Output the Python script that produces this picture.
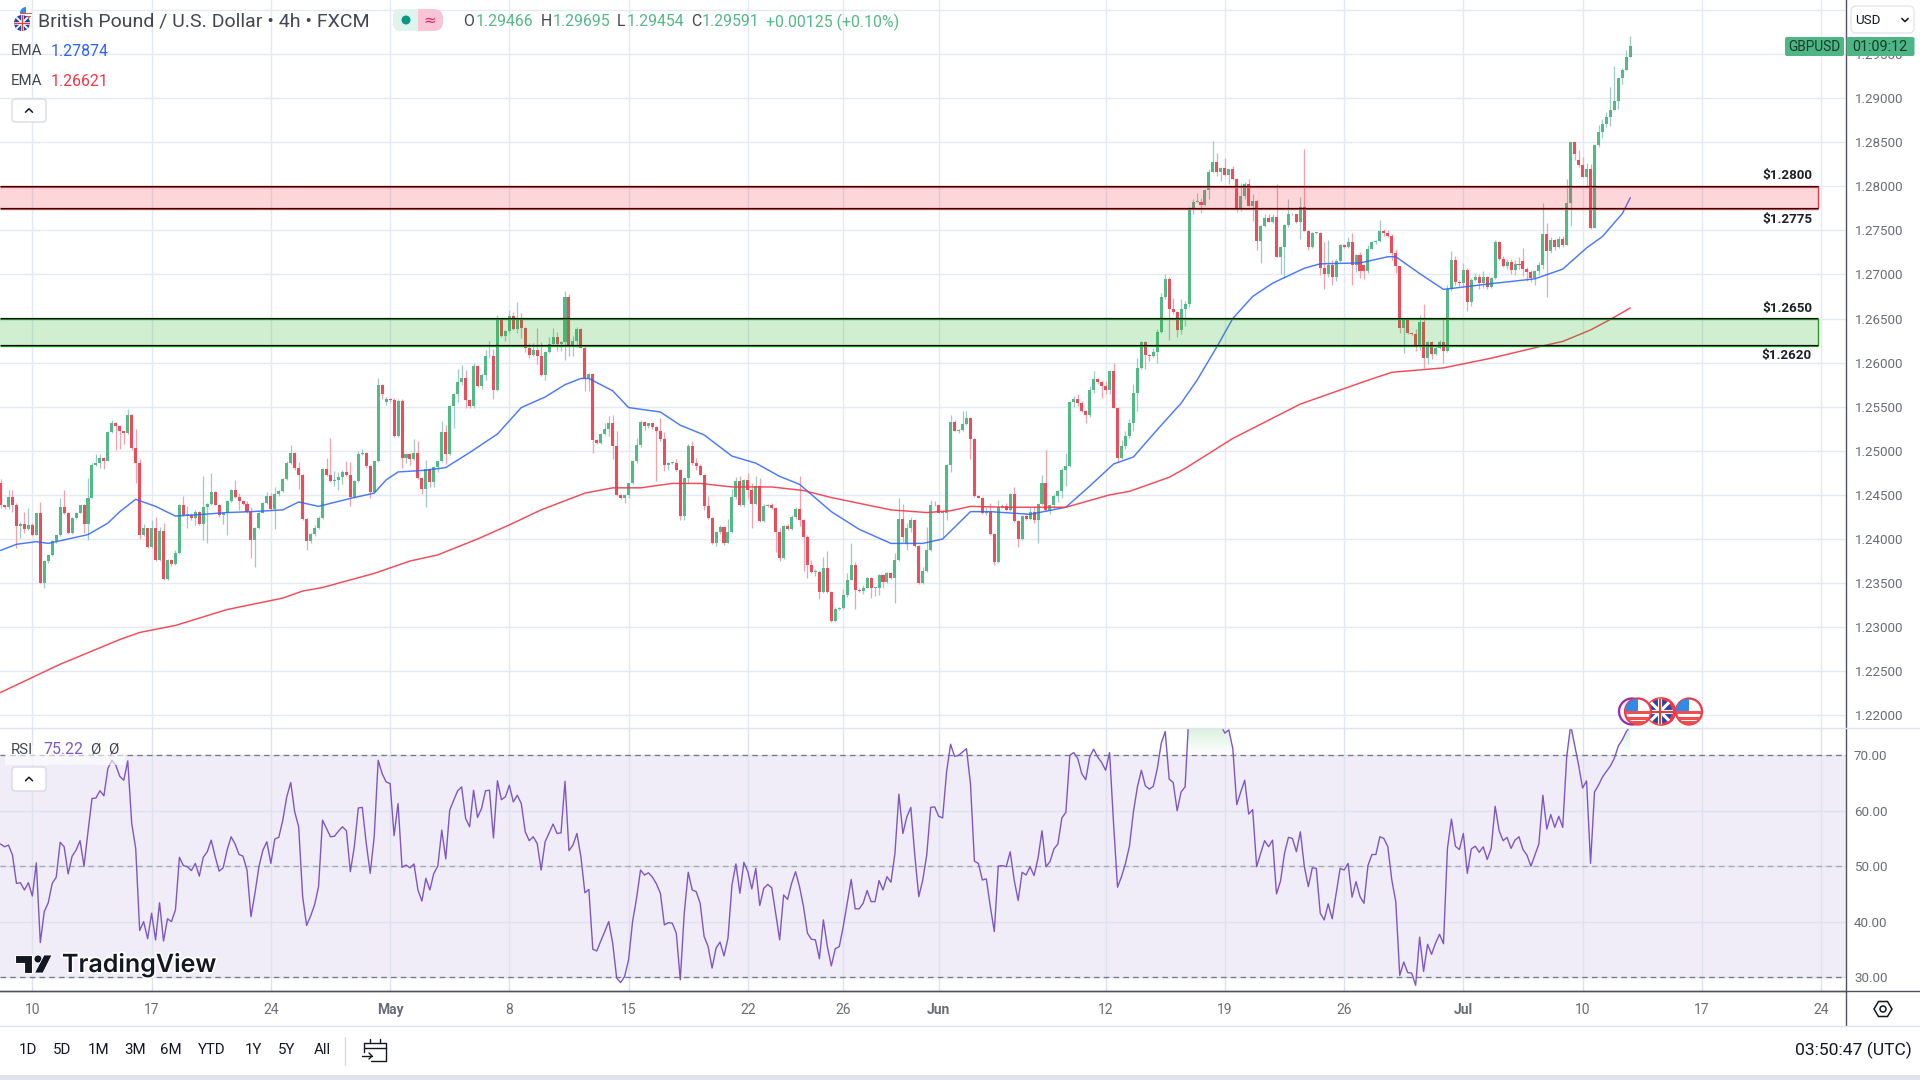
import numpy as np, pandas as pd, matplotlib
matplotlib.use('Agg')
import matplotlib.pyplot as plt, seaborn as sns
import matplotlib.patheffects as pe
from matplotlib.patches import Circle, Rectangle, FancyBboxPatch, Polygon
from matplotlib.path import Path
from matplotlib.colors import LinearSegmentedColormap

# ---- data (GBP/USD 4h, in 1/10000 of a dollar) ----
closes = [12438,12436,12448,12439,12415,12417,12411,12416,12405,12429,
12350,12375,12382,12398,12404,12436,12430,12407,12424,12430,
12438,12417,12447,12484,12486,12492,12489,12521,12532,12528,
12522,12520,12541,12503,12486,12404,12412,12391,12412,12376,
12409,12355,12376,12372,12384,12439,12427,12427,12424,12431,
12417,12436,12440,12453,12439,12427,12430,12443,12455,12448,
12443,12440,12431,12399,12413,12430,12441,12449,12434,12451,
12454,12468,12486,12498,12481,12473,12423,12398,12406,12412,
12424,12479,12472,12466,12467,12470,12476,12472,12448,12466,
12496,12497,12483,12453,12488,12575,12564,12559,12558,12517,
12556,12492,12496,12491,12497,12469,12457,12479,12465,12482,
12488,12521,12496,12551,12564,12578,12583,12558,12551,12596,
12573,12586,12607,12608,12569,12648,12630,12636,12653,12638,
12648,12639,12617,12609,12614,12608,12586,12612,12621,12629,
12621,12623,12674,12620,12625,12638,12617,12582,12587,12512,
12509,12519,12525,12532,12505,12450,12446,12450,12463,12489,
12507,12533,12528,12531,12527,12522,12513,12484,12486,12486,
12478,12426,12469,12505,12486,12483,12473,12437,12424,12395,
12408,12414,12396,12408,12448,12466,12438,12467,12456,12440,
12460,12420,12437,12439,12435,12408,12378,12415,12411,12425,
12434,12422,12402,12371,12363,12363,12340,12367,12340,12307,
12321,12322,12336,12354,12371,12342,12341,12345,12356,12345,
12345,12359,12351,12361,12356,12376,12423,12402,12413,12422,
12392,12350,12364,12387,12438,12439,12430,12430,12484,12533,
12523,12524,12530,12537,12513,12449,12447,12429,12431,12406,
12374,12436,12437,12433,12451,12420,12400,12426,12423,12431,
12422,12440,12464,12433,12438,12449,12454,12478,12483,12555,
12559,12554,12545,12541,12569,12581,12578,12574,12569,12590,
12549,12492,12505,12517,12531,12565,12594,12623,12609,12607,
12612,12635,12674,12695,12661,12657,12637,12661,12667,12775,
12782,12782,12779,12796,12816,12827,12816,12821,12813,12819,
12808,12773,12789,12802,12778,12783,12738,12755,12764,12759,
12765,12720,12731,12756,12769,12768,12759,12776,12749,12731,
12747,12747,12707,12700,12711,12697,12715,12733,12731,12737,
12711,12722,12704,12704,12729,12737,12738,12749,12747,12743,
12724,12710,12639,12648,12633,12632,12618,12646,12605,12623,
12610,12617,12623,12613,12683,12716,12691,12690,12705,12669,
12694,12697,12690,12697,12686,12696,12737,12717,12709,12714,
12705,12712,12711,12706,12703,12696,12704,12711,12746,12727,
12739,12731,12740,12733,12781,12850,12837,12824,12810,12819,
12753,12847,12862,12870,12878,12886,12897,12923,12932,12947,12959]
first_open = 12463
open_gaps = {97:12555, 228:12395, 343:12711, 383:12715, 397:12830}
wick_up = [5,1,8,8,2,2,14,19,2,1, 13,1,1,1,2,11,20,1,1,1, 1,2,22,2,10,4,1,1,3,1,
1,1,6,1,22,5,5,1,10,13, 5,9,1,1,3,1,10,10,2,2, 1,35,1,22,1,1,1,1,2,12,
4,1,3,5,1,2,1,4,3,8, 1,1,2,9,1,6,1,1,1,4, 2,1,13,43,10,6,2,12,15,1,
4,5,1,1,1,8,1,2,1,2, 3,3,1,1,16,14,1,11,2,1, 1,13,8,1,1,15,14,9,1,3,
1,2,7,16,7,6,1,1,7,4, 21,8,1,5,8,25,15,1,8,10, 6,2,7,4,5,2,1,2,1,1,
1,1,6,8,9,18,1,1,1,1, 8,2,1,1,1,1,15,8,1,1, 5,1,1,3,6,6,2,1,12,1,
1,2,1,15,9,4,5,1,8,7, 11,9,3,1,2,1,5,1,2,2, 2,37,1,3,5,3,2,13,19,1,
2,1,7,8,24,3,2,3,1,1, 1,1,1,2,2,8,24,17,5,3, 1,1,4,27,6,4,1,3,1,8,
2,1,15,8,1,1,1,1,5,10, 1,8,3,4,1,8,1,1,4,5, 5,1,8,37,1,2,1,2,15,1,
3,5,2,1,4,9,1,2,5,1, 9,1,7,5,5,11,11,1,1,1, 5,3,5,5,2,12,1,11,3,1,
3,10,5,1,3,24,11,1,11,1, 4,1,15,3,6,8,1,1,4,5, 3,38,1,1,17,1,1,12,66,1,
1,1,1,30,28,5,3,1,2,5, 10,1,3,1,4,1,1,13,3,3, 3,5,0,1,2,1,6,8,20,1,
2,3,3,27,5,11,5,3,8,2, 2,5,4,7,1,1,2,1,4,3, 4,4,8,15,2,2,1,3,35,12,
3,1,3,3,27,0,0,11,9,7, 6,0,7,6,6,27,39,0,2,7,11]
wick_dn = [3,2,2,8,25,14,4,1,2,1, 0,5,2,1,2,1,2,1,1,1, 1,10,18,1,1,6,10,1,1,27,
20,12,1,2,23,4,1,1,1,1, 1,1,1,3,1,1,1,15,2,8, 1,18,40,1,1,2,10,25,1,1,
10,1,1,21,31,2,1,1,1,23, 2,1,1,1,3,16,1,11,3,3, 1,1,1,1,6,12,8,1,11,1,
1,1,3,7,1,1,5,3,3,1, 1,11,6,7,1,1,6,21,6,6, 6,1,11,1,25,9,3,10,3,2,
1,3,6,1,10,1,1,6,3,1, 4,11,5,4,2,10,1,6,1,2, 8,8,20,12,12,7,1,14,14,14,
1,1,1,8,14,1,1,5,3,1, 3,3,4,2,2,56,2,7,6,1, 1,5,5,5,2,5,1,4,1,1,
3,2,3,1,1,3,1,2,10,27, 2,1,1,1,1,23,3,1,1,1, 2,7,38,15,1,5,8,1,1,1,
1,1,1,2,1,21,1,3,1,12, 10,8,6,1,1,28,1,5,8,5, 1,1,1,1,1,1,1,28,8,8,
1,3,1,1,22,1,1,1,2,1, 4,1,1,1,1,1,9,1,2,2, 4,27,1,1,5,3,7,7,18,1,
5,3,1,10,3,4,2,14,5,5, 1,5,1,3,2,9,20,1,16,5, 1,12,2,2,35,2,8,5,19,4,
7,0,9,1,11,0,5,10,1,10, 1,2,1,3,1,17,10,25,1,0, 1,0,19,35,2,1,1,19,0,3,
1,1,8,16,3,9,5,1,1,1, 23,8,8,9,2,0,3,1,3,1, 8,8,5,28,1,1,5,4,11,7,
6,1,2,14,1,2,3,3,4,10, 5,2,7,5,2,1,1,1,1,3, 5,6,5,8,10,5,8,5,5,53,
3,3,1,2,0,26,7,2,0,12, 2,0,2,7,3,10,0,9,7,0,0]

ema_blue_idx = [0,4,9,12,16,22,27,30,34,39,44,51,57,63,71,75,80,88,94,97,100,107,112,118,125,131,137,142,146,148,154,158,166,171,177,184,190,196,201,209,216,224,232,237,244,249,259,268,274,280,285,291,297,301,306,310,315,320,328,332,342,349,351,357,363,376,386,393,399,403,408,410]
ema_blue_val = [12387,12394,12397,12395,12399,12405,12418,12431,12445,12437,12426,12428,12430,12431,12433,12442,12437,12446,12452,12467,12476,12478,12481,12498,12519,12549,12561,12575,12582,12582,12568,12549,12544,12529,12518,12494,12486,12471,12462,12431,12411,12395,12395,12400,12431,12431,12428,12436,12460,12485,12493,12524,12554,12580,12618,12650,12675,12690,12707,12712,12713,12720,12720,12701,12683,12690,12695,12706,12730,12743,12769,12787]
ema_red_idx = [0,15,30,35,44,57,71,76,81,94,103,110,120,128,136,147,154,161,169,176,184,194,202,209,224,233,239,244,253,268,279,284,294,298,310,327,344,350,363,375,388,393,400,405,410]
ema_red_val = [12226,12258,12286,12294,12302,12320,12333,12341,12345,12361,12375,12382,12400,12416,12433,12452,12458,12458,12463,12463,12459,12459,12455,12447,12433,12430,12432,12437,12436,12436,12450,12454,12470,12480,12514,12553,12580,12589,12594,12605,12619,12624,12637,12649,12662]

rsi = [54,53.5,53.8,52,46.9,47,45.7,47,44.6,50.6,
36.2,41.8,43.4,46.9,48,54.3,53.5,48.6,51.8,52.9,
54.6,50,56.2,62.2,62.3,63.6,62.7,67.6,69.1,68.2,
66.2,65.5,69,57.7,53.2,38.4,40,36.9,41.5,36.7,
43.4,36.5,40.5,40,42.1,51.6,50.1,49.9,49.2,50.5,
48.2,51.6,52.6,54.7,51.7,49.1,49.7,52.9,55.3,54,
52.1,51.8,49.3,40.9,45.1,49.9,52.9,54.4,50.5,54.9,
55.2,58.3,62.5,65.1,59.8,57.1,44.5,39.3,41,43,
46.3,58.3,56.8,55.3,55.4,56.3,57.1,56.4,49,53.5,
60.5,60.6,54.1,48.7,55.3,69.1,66.7,65.2,64.9,55.5,
61.3,49.8,50.2,49.7,50.4,45.7,43.7,47.8,45.7,48.7,
50,56.5,51.3,60.1,61.9,63.6,64.3,58.6,57.1,63.7,
58.8,60.4,63.6,63.7,55.1,65.4,62,62.5,64.6,61.6,
62.8,61.3,56.2,54.6,55.3,54.1,49.3,54.4,56,57.6,
55.9,56,65.3,52.8,53.8,55.9,51.7,45.2,45.8,35,
34.7,36.5,38.2,40,36.1,29.8,29,30.1,33.1,40,
44.2,49.3,48.4,48.8,48,46.8,45.1,39.4,39.8,39.7,
37.9,29.5,41.5,48.9,45.7,45.4,43.3,37.3,35.5,31.6,
35.2,36.3,33.8,37,46.6,50.4,45.1,50.7,49,45.9,
49.6,42.9,46,46.7,46.1,41.5,36.7,44.8,44,46.9,
49,46.3,42.7,37.9,36.8,36.7,33.3,40.3,35.5,32,
35.1,35.5,39.1,43.3,47.6,42.3,42.3,43.3,45.6,43.6,
43.6,47.4,45.7,48.1,47.1,52.3,63,55.9,58.9,60.6,
52,44.5,47.5,52,60.6,60.7,59,58.7,67,72,
69.8,70,70.6,71.2,64.9,50.9,50.5,47.5,47.7,42.7,
38.2,50,50.1,49.9,52.6,47.5,43.8,48.9,48.4,49.9,
48.3,51.4,56.4,49.9,50.8,53.1,54,58.7,59.7,70,
70.5,69.4,66.7,65.6,69.7,71.1,69.7,68.7,67.3,70.5,
57.7,46.2,48.1,50.5,53.6,59.8,64.3,67.3,64.5,63.9,
64.4,67.6,72.2,74.3,65.7,65.1,60,63.4,64.3,78,
82,83,81,84,84,82,78,75.5,74,74.6,
71.2,61.1,63.4,65.5,59.4,60.2,49.9,52.3,54.6,53.5,
54.7,45,47.3,52.3,55.2,55,52.6,56.2,49.9,46.3,
49.7,49.6,41.5,40.3,43.2,40.5,45.1,49.6,49.3,50.5,
44.4,47.2,44.5,43.3,50.1,52.1,52.1,55.3,55,53.5,
47.5,43.6,30.3,32.7,30.8,30.7,28.5,37.2,31,35.9,
34.1,36.1,37.7,36,53.2,58.5,53.6,53,55.9,48.7,
53.1,53.6,52.5,53.5,51.2,53.2,60.8,56.4,54.6,55.2,
53.2,54.7,55.3,53,52,50,52,54,62.8,56.7,
59.3,57,59,57,69.7,75.5,71.8,68.2,64.1,65.4,
50.5,63.4,64.6,66.1,67.1,68.1,69.5,71.7,72.8,74.3,75.22]

price_ticks = [1.22,1.225,1.23,1.235,1.24,1.245,1.25,1.255,1.26,1.265,1.27,1.275,1.28,1.285,1.29,1.295,1.30]
rsi_ticks = [30,40,50,60,70]
date_pos = [8,38,68,98,128,158,188,212,236,278,308,338,368,398,428,458]
date_lab = ['10','17','24','May','8','15','22','26','Jun','12','19','26','Jul','10','17','24']
zones = [(1.2775,1.2800,'#f23645','#f23645',0.2,'$1.2800','$1.2775'),
         (1.2620,1.2650,'#22b024','#1d9a1f',0.21,'$1.2650','$1.2620')]
ranges = ['1D','5D','1M','3M','6M','YTD','1Y','5Y','All']

# ---- frame ----
sns.set_theme(style='white')
plt.rcParams['font.family'] = ['Roboto','DejaVu Sans']
W,H = 1920,1080
fig = plt.figure(figsize=(19.2,10.8),dpi=100,facecolor='white')
R = 1845.7
def axrect(t,b): return [0,1-b/H,R/W,(b-t)/H]
ax = fig.add_axes(axrect(0,728)); ax2 = fig.add_axes(axrect(728,991))
xl = (-0.55/3.975,(R-0.55)/3.975)
GRID='#e4eaf1'; TXT='#6a6d78'; DARK='#50535e'

c = np.array(closes)/1e4
o = np.r_[first_open/1e4,c[:-1]]
for k,v in open_gaps.items(): o[k]=v/1e4
hi = np.maximum(o,c)+np.array(wick_up)/1e4
lo = np.minimum(o,c)-np.array(wick_dn)/1e4
x = np.arange(len(c))
up = c>=o
GREEN,RED='#53b987','#eb4d5c'
ax.vlines(x[up],lo[up],hi[up],color='#9fcbc6',lw=0.9,zorder=3)
ax.vlines(x[~up],lo[~up],hi[~up],color='#f7a1ad',lw=0.9,zorder=3)
hb = np.maximum(np.abs(c-o),0.00008)
ax.bar(x,hb,bottom=np.minimum(o,c),width=0.76,color=np.where(up,GREEN,RED),linewidth=0,zorder=4)
sns.lineplot(x=ema_blue_idx,y=np.array(ema_blue_val)/1e4,ax=ax,color='#2962ff',lw=1.05,alpha=.85,estimator=None,zorder=5)
sns.lineplot(x=ema_red_idx,y=np.array(ema_red_val)/1e4,ax=ax,color='#f23645',lw=1.05,alpha=.9,estimator=None,zorder=5)
xr = (1817.7-.55)/3.975
for lo_z,hi_z,fc,ec,al,_,_ in zones:
    ax.fill_between([xl[0],xr],lo_z,hi_z,color=fc,alpha=al,lw=0,zorder=6)
    ax.plot([xr]*2,[lo_z,hi_z],color=ec,lw=1,zorder=6)
    for yv in (lo_z,hi_z):
        ax.hlines(yv+0.00005,xl[0],xr,color='#0b0b0b',lw=0.85,zorder=7)
        ax.hlines(yv-0.00009,xl[0],xr,color=ec,lw=0.9,zorder=6)
ax.set_xlim(xl); ax.set_ylim(1.29-(728-98)/8820,1.29+98/8820)
ax.set_yticks(price_ticks); ax.set_yticklabels([f'{t:.5f}' for t in price_ticks])
ax.set_xticks(date_pos); ax.tick_params(axis='x',labelbottom=False,length=0)
ax.yaxis.tick_right()
ax.tick_params(axis='y',length=0,pad=7,labelsize=9.6,labelcolor=TXT)
ax.grid(True,color=GRID,lw=1); ax.set_axisbelow(True)
for s in ('top','left','bottom'): ax.spines[s].set_visible(False)
ax.spines['right'].set_color(DARK); ax.spines['right'].set_linewidth(1.0)

# RSI pane
ax2.axhspan(30,70,color='#f0edf9',lw=0,zorder=0.5)
sns.lineplot(x=x,y=rsi,ax=ax2,color='#7e57c2',lw=1.0,estimator=None,zorder=5)
ra = np.array(rsi)
poly = ax2.fill_between(x,70,ra,where=ra>70,interpolate=True,facecolor='none',lw=0)
grad = LinearSegmentedColormap.from_list('g',['#ffffff','#d9f0dd'])
im = ax2.imshow(np.linspace(0,1,50)[:,None],extent=[xl[0],xl[1],70,74.93],origin='lower',aspect='auto',cmap=grad,zorder=2)
im.set_clip_path(Path.make_compound_path(*poly.get_paths()),transform=ax2.transData)
for v,co in ((70,'#787b86'),(50,'#a5a7b0'),(30,'#787b86')):
    ax2.axhline(v,color=co,lw=0.95,ls=(0,(4.2,3.2)),zorder=4)
ax2.set_xlim(xl); ax2.set_ylim(30-14/5.54,70+27.3/5.54)
ax2.set_yticks(rsi_ticks); ax2.set_yticklabels([f'{t:.2f}' for t in rsi_ticks])
ax2.yaxis.tick_right()
ax2.tick_params(axis='y',length=0,pad=6,labelsize=9.6,labelcolor=TXT)
ax2.set_xticks(date_pos); ax2.set_xticklabels(date_lab)
ax2.tick_params(axis='x',length=0,pad=8.5,labelsize=10,labelcolor=TXT)
for t in ax2.get_xticklabels():
    if t.get_text() in ('May','Jun','Jul'): t.set_fontweight('bold')
ax2.grid(True,color='#dde2ee',lw=1); ax2.set_axisbelow(True)
ax2.spines['top'].set_visible(False); ax2.spines['left'].set_visible(False)
ax2.spines['right'].set_color(DARK); ax2.spines['right'].set_linewidth(1.0)
ax2.spines['bottom'].set_color(DARK); ax2.spines['bottom'].set_linewidth(1.0)

# ---- overlay in picture pixels for the chart furniture ----
ov = fig.add_axes([0,0,1,1],zorder=20); ov.set_xlim(0,W); ov.set_ylim(H,0); ov.axis('off'); ov.patch.set_alpha(0)
def T(xp,yp,s,size=9.6,color='#131722',ha='left',**k):
    return ov.text(xp,yp,s,fontsize=size,color=color,ha=ha,va='center',**k)
def box(x0,y0,w,h,fc='white',ec='#d6d8e0',r=3,lw=0.9,z=3):
    ov.add_patch(FancyBboxPatch((x0+r,y0+r),w-2*r,h-2*r,boxstyle=f'round,pad={r}',fc=fc,ec=ec,lw=lw,zorder=z,mutation_aspect=1))
def chevron(xc,yc,s=3.5,d=1,col='#131722'):
    ov.plot([xc-s,xc,xc+s],[yc+d*s/2,yc-d*s/2,yc+d*s/2],color=col,lw=1.1,zorder=5)
def flag_us(xc,yc,r,ring=True,z=8):
    circ=Circle((xc,yc),r,fc='white',ec='#f23645' if ring else 'none',lw=1.6 if ring else 0,zorder=z); ov.add_patch(circ)
    for dy,h_,co in ((-0.05,.22,'#f04f4f'),(0.42,.24,'#f04f4f'),(.72,.3,'#f04f4f')):
        p=Rectangle((xc-r,yc+dy*r),2*r,h_*r,fc=co,lw=0,zorder=z+.1); ov.add_patch(p); p.set_clip_path(circ)
    p=Rectangle((xc-r,yc-r),r,r*.95,fc='#2f8be6',lw=0,zorder=z+.2); ov.add_patch(p); p.set_clip_path(circ)
def flag_uk(xc,yc,r,ring=True,z=8):
    circ=Circle((xc,yc),r,fc='#1f47a8',ec='#f23645' if ring else 'none',lw=1.6 if ring else 0,zorder=z); ov.add_patch(circ)
    for (a,b,c_,d_,co,l) in ((-1,-1,1,1,'white',2.2),(-1,1,1,-1,'white',2.2),(-1,0,1,0,'white',3),(0,-1,0,1,'white',3),(-1,0,1,0,'#e53935',1.4),(0,-1,0,1,'#e53935',1.4)):
        ln,=ov.plot([xc+a*r,xc+c_*r],[yc+b*r,yc+d_*r],color=co,lw=l*r/13,zorder=z+.1); ln.set_clip_path(circ)

# header
flag_us(26,13,6,ring=False); flag_uk(22,23,8,ring=False,z=9)
T(38.5,22,'British Pound / U.S. Dollar • 4h • FXCM',size=14,color='#434651')
box(393,9,50,22,fc='#f9c5d6',ec='none',r=9,z=2)
box(393,9,35,22,fc='#dff3ef',ec='none',r=9,z=3)
ov.add_patch(Rectangle((418,9),11,22,fc='#f9c5d6',ec='none',zorder=3.5))
ov.add_patch(Circle((406,20),4.5,fc='#089981',ec='none',zorder=4))
T(430,20,'≈',size=11,color='#e91e63',ha='center',zorder=4,family=['DejaVu Sans'])
G='#53b987'; D='#434651'
for xp,s,co in ((463,'O',D),(476,'1.29466',G),(541,'H',D),(553,'1.29695',G),(617,'L',D),(627,'1.29454',G),(691,'C',D),(702,'1.29591',G),(766,'+0.00125 (+0.10%)',G)):
    T(xp,22,s,size=11.4,color=co)
T(11,51,'EMA',color=D,size=10.8); T(51,51,'1.27874',color='#2962ff',size=11.4)
T(11,81,'EMA',color=D,size=10.8); T(51,81,'1.26621',color='#f23645',size=11.4)
box(12,99,34,23); chevron(29,110.5)
# right side labels
box(1851,6,63,27,ec='#e0e3eb',r=5); T(1855,21,'USD',size=9.6); chevron(1905,20,3.2,d=-1)
box(1785,37,59,19,fc='#4eb585',ec='none',r=2); box(1846.5,37,68,19,fc='#4eb585',ec='none',r=2)
T(1814.5,47,'GBPUSD',size=9.8,color='#173b2c',ha='center'); T(1880,47,'01:09:12',size=10.4,color='#173b2c',ha='center')
for z_,(yu,yl) in zip(zones,((175,219.5),(308.5,355))):
    T(1812,yu,z_[5],size=9.6,ha='right',fontweight='bold',color='#1c1f26')
    T(1812,yl,z_[6],size=9.6,ha='right',fontweight='bold',color='#1c1f26')
# event marks
ov.add_patch(Circle((1632,711.5),13,fc='white',ec='#9c27b0',lw=1.6,zorder=7))
ov.add_patch(Circle((1662,711.5),13,fc='white',ec='#f23645',lw=1.6,zorder=7))
flag_uk(1660,711.5,13,z=8); flag_us(1638,711.5,13,z=9); flag_us(1689,711.5,13,z=8)
# RSI legend
ov.add_patch(Rectangle((5,745),120,20,fc='white',alpha=.6,lw=0,zorder=1))
T(11,750,'RSI',color=D,size=10.8); T(43,750,'75.22',color='#7e57c2',size=11.4); T(90,750,'Ø',color=D,size=10.8); T(108,750,'Ø',color=D,size=10.8)
box(12,767,34,24); chevron(29,779)
# TradingView mark
halo=[pe.withStroke(linewidth=2.5,foreground='white')]
ov.add_patch(Polygon([(15,955),(32,955),(32,973),(23.5,973),(23.5,963),(15,963)],fc='#131722',ec='white',lw=.8,zorder=6))
ov.add_patch(Circle((38,959),4,fc='#131722',ec='white',lw=.6,zorder=6))
ov.add_patch(Polygon([(44,955),(52,955),(43,973),(34.5,973)],fc='#131722',ec='white',lw=.6,zorder=6))
T(62,964.5,'TradingView',size=18,color='#131722',family=['Inter','Roboto'],fontweight='semibold',path_effects=halo,zorder=6)
# time axis rules and bottom bar
ov.plot([0,W],[991,991],color=DARK,lw=1.0,zorder=1)
ov.plot([R,W],[728,728],color='#e0e3eb',lw=1,zorder=1); ov.plot([0,R],[728,728],color='#e0e3eb',lw=1,zorder=1)
ov.plot([R,R],[991,1026],color=DARK,lw=1.0,zorder=1)
ov.plot([0,W],[1026,1026],color='#e0e3eb',lw=1,zorder=1)
ov.add_patch(Rectangle((0,1075),W,5,fc='#e0e3eb',lw=0))
for xp,s in zip((28,62,99,135.5,171,212,253,287,322),ranges):
    T(xp,1050.5,s,size=10.8,ha='center')
ov.plot([345,345],[1037,1065],color='#d8dae2',lw=1)
# calendar icon
ov.plot([364,386,386,371],[1043,1043,1061,1061],color='#131722',lw=1)
ov.plot([364,364],[1043,1052],color='#131722',lw=1); ov.plot([364,386],[1048,1048],color='#131722',lw=1)
ov.plot([370,370],[1039,1043],color='#131722',lw=1); ov.plot([380,380],[1039,1043],color='#131722',lw=1)
ov.plot([362,372],[1056,1056],color='#131722',lw=1); ov.plot([369,372,369],[1053,1056,1059],color='#131722',lw=1)
T(1911.5,1050,'03:50:47 (UTC)',size=12.6,ha='right')
# settings icon
hx=[(1874,1009),(1878.5,1001.5),(1887.5,1001.5),(1892,1009),(1887.5,1016.5),(1878.5,1016.5)]
ov.add_patch(Polygon(hx,fc='none',ec='#131722',lw=1.1)); ov.add_patch(Circle((1883,1009),3,fc='none',ec='#131722',lw=1.1))

fig.savefig('out.png',dpi=100,facecolor='white')
